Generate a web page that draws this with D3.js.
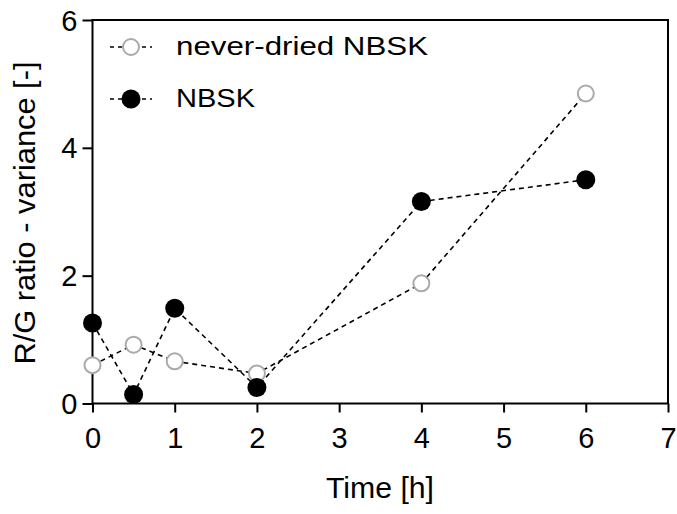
<!DOCTYPE html>
<html><head><meta charset="utf-8">
<script src="https://cdn.jsdelivr.net/npm/d3@7"></script>
<style>body{margin:0;background:#fff}svg{display:block}text{font-family:"Liberation Sans",Arial,sans-serif;fill:#000}</style>
</head><body><svg id="c" width="677" height="514"></svg>
<script>
const times = [0, 0.5, 1, 2, 4, 6];
const neverDried = [0.6, 0.92, 0.66, 0.47, 1.88, 4.85];
const nbsk = [1.26, 0.14, 1.49, 0.25, 3.16, 3.5];
const seriesNames = ["never-dried NBSK", "NBSK"];
const xTicks = [0, 1, 2, 3, 4, 5, 6, 7];
const yTicks = [0, 2, 4, 6];

const svg = d3.select("#c");
const x = d3.scaleLinear().domain([0, 7]).range([92.5, 668]);
const y = d3.scaleLinear().domain([0, 6]).range([403.5, 20]);

svg.append("rect").attr("x", x(0)).attr("y", y(6)).attr("width", x(7) - x(0)).attr("height", y(0) - y(6))
  .attr("fill", "none").attr("stroke", "#000").attr("stroke-width", 2);

const xa = svg.append("g").attr("transform", `translate(0,${y(0)})`)
  .call(d3.axisBottom(x).tickValues(xTicks).tickFormat(d3.format("d")).tickSize(9).tickPadding(6));
const ya = svg.append("g").attr("transform", `translate(${x(0)},0)`)
  .call(d3.axisLeft(y).tickValues(yTicks).tickFormat(d3.format("d")).tickSize(10).tickPadding(5));
[xa, ya].forEach(a => {
  a.select(".domain").remove();
  a.selectAll("line").attr("stroke", "#000").attr("stroke-width", 2);
  a.selectAll("text").style("font-size", "29px").style("font-family", "Liberation Sans, Arial, sans-serif").attr("fill", "#000");
});
xa.selectAll("text").attr("dy", null).attr("y", 44.5).attr("dominant-baseline", null);
ya.selectAll("text").attr("dy", "0.35em");

svg.append("text").attr("x", 380).attr("y", 498).attr("text-anchor", "middle").style("font-size", "29px")
  .attr("textLength", 108).attr("lengthAdjust", "spacingAndGlyphs").text("Time [h]");
svg.append("text").attr("transform", `translate(35,213) rotate(-90)`).attr("text-anchor", "middle").style("font-size", "29px")
  .attr("textLength", 303).attr("lengthAdjust", "spacingAndGlyphs").text("R/G ratio - variance [-]");

const line = d3.line().x(d => x(d[0])).y(d => y(d[1]));
const series = [
  {name: seriesNames[0], vals: neverDried, fill: "#fff", stroke: "#aaa", r: 8, sw: 2, len: 252},
  {name: seriesNames[1], vals: nbsk, fill: "#000", stroke: "#000", r: 9.5, sw: 0, len: 79}
];
series.forEach(s => {
  const pts = times.map((t, i) => [t, s.vals[i]]);
  svg.append("path").attr("d", line(pts)).attr("fill", "none").attr("stroke", "#000").attr("stroke-width", 1.6).attr("stroke-dasharray", "5,4");
});
series.forEach(s => {
  const pts = times.map((t, i) => [t, s.vals[i]]);
  svg.selectAll(null).data(pts).enter().append("circle")
    .attr("cx", d => x(d[0])).attr("cy", d => y(d[1])).attr("r", s.r)
    .attr("fill", s.fill).attr("stroke", s.stroke).attr("stroke-width", s.sw);
});

series.forEach((s, i) => {
  const ly = 47 + i * 52;
  svg.append("line").attr("x1", 110).attr("x2", 152).attr("y1", ly).attr("y2", ly)
    .attr("stroke", "#000").attr("stroke-width", 1.6).attr("stroke-dasharray", "4,4");
  svg.append("circle").attr("cx", 131).attr("cy", ly).attr("r", s.r).attr("fill", s.fill).attr("stroke", s.stroke).attr("stroke-width", s.sw);
  svg.append("text").attr("x", 176).attr("y", ly + 8).style("font-size", "25.5px")
    .attr("textLength", s.len).attr("lengthAdjust", "spacingAndGlyphs").text(s.name);
});
</script></body></html>
